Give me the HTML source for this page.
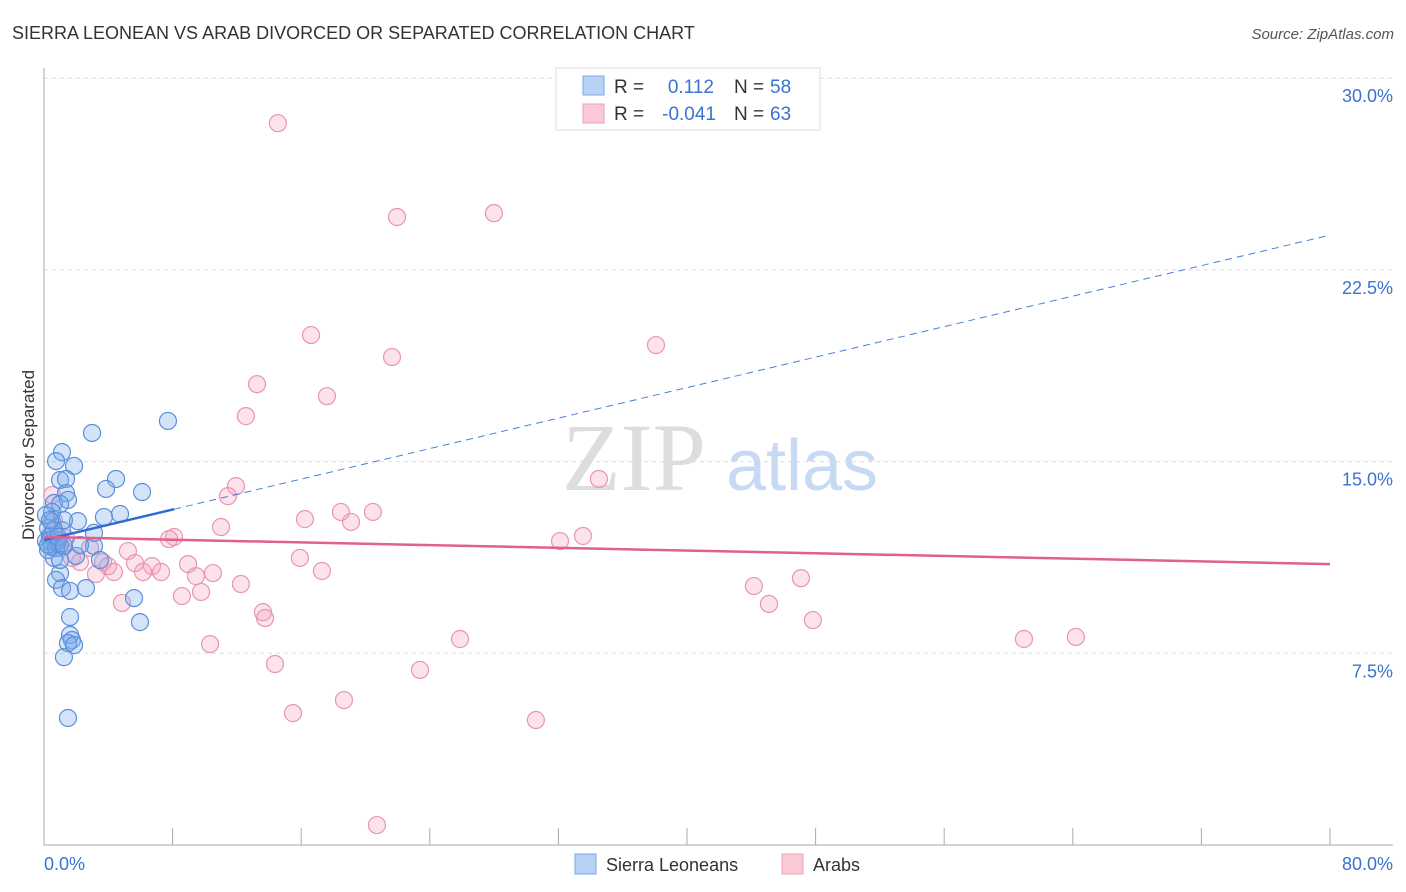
<!DOCTYPE html>
<html><head><meta charset="utf-8"><style>
body{margin:0;background:#fff;font-family:"Liberation Sans",sans-serif;}
svg{display:block}
</style></head><body>
<svg id="chart" width="1406" height="892" xmlns="http://www.w3.org/2000/svg">
<text x="12" y="39" font-size="18" fill="#333">SIERRA LEONEAN VS ARAB DIVORCED OR SEPARATED CORRELATION CHART</text>
<text x="1394" y="39" font-size="15" fill="#555" font-style="italic" text-anchor="end">Source: ZipAtlas.com</text>
<text x="34" y="455" font-size="17" fill="#333" text-anchor="middle" transform="rotate(-90 34 455)">Divorced or Separated</text>
<g>
<text x="634" y="490" font-size="96" fill="#ddd" font-family="Liberation Serif,serif" text-anchor="middle">ZIP</text>
<text x="802" y="490" font-size="72" fill="#c8daf3" text-anchor="middle">atlas</text>
</g>
<g id="grid"></g>
<g id="axes"></g>
<g id="pts"></g>
<g id="lines"></g>
<g>
<rect x="556" y="68" width="264" height="62" fill="#fff" stroke="#ddd"/>
<rect x="583" y="76" width="21" height="19" fill="#b8d2f5" stroke="#7aa8e8"/>
<text x="614" y="93" font-size="19" fill="#333">R =</text>
<text x="714" y="93" font-size="19" fill="#3a72d0" text-anchor="end">0.112</text>
<text x="734" y="93" font-size="19" fill="#333">N =</text>
<text x="770" y="93" font-size="19" fill="#3a72d0">58</text>
<rect x="583" y="104" width="21" height="19" fill="#fbc8d6" stroke="#eea0b8"/>
<text x="614" y="120" font-size="19" fill="#333">R =</text>
<text x="716" y="120" font-size="19" fill="#3a72d0" text-anchor="end">-0.041</text>
<text x="734" y="120" font-size="19" fill="#333">N =</text>
<text x="770" y="120" font-size="19" fill="#3a72d0">63</text>
</g>
<g>
<rect x="575" y="854" width="21" height="20" fill="#b8d2f5" stroke="#7aa8e8"/>
<text x="606" y="871" font-size="18" fill="#333">Sierra Leoneans</text>
<rect x="782" y="854" width="21" height="20" fill="#fbc8d6" stroke="#eea0b8"/>
<text x="813" y="871" font-size="18" fill="#333">Arabs</text>
</g>
</svg>
<script>
const blueX=[7.71,2.99,1.12,0.75,1.87,4.48,1.0,1.37,3.86,6.10,1.37,1.49,0.62,1.0,4.73,3.73,2.11,0.50,0.25,1.12,3.11,0.37,0.12,0.75,1.0,0.5,3.11,1.99,0.62,1.0,0.75,1.12,1.62,2.61,5.60,1.62,5.97,1.62,1.74,1.49,1.87,1.24,1.49,0.37,0.25,0.87,0.5,1.24,0.62,0.12,0.37,0.75,1.0,0.25,3.48,2.24,0.87,1.24];
const blueY=[16.59,16.12,15.37,15.02,14.83,14.32,14.28,14.32,13.93,13.81,13.77,13.50,13.38,13.34,12.95,12.83,12.67,12.64,12.40,12.32,12.21,12.09,11.89,11.81,11.74,11.66,11.70,11.31,11.23,10.64,10.37,10.05,9.94,10.05,9.66,8.92,8.72,8.22,8.02,7.90,7.82,7.35,4.97,11.93,11.54,11.93,13.03,12.71,12.32,12.91,12.71,11.62,11.15,11.74,11.15,11.74,12.05,11.70];
const pinkX=[14.55,27.99,21.96,16.61,21.65,38.07,13.25,17.60,12.56,34.52,11.94,11.44,18.47,20.46,16.23,19.10,11.01,8.09,7.78,33.53,32.10,5.22,15.92,8.96,5.66,3.67,3.98,6.72,6.16,7.28,4.35,3.23,9.45,10.51,17.29,2.24,1.74,1.12,0.87,0.62,0.5,12.25,44.16,47.09,9.77,8.58,4.85,13.62,13.75,45.10,47.83,10.33,25.88,60.96,64.19,14.37,23.39,18.66,15.49,30.60,20.71,2.86,1.37];
const pinkY=[28.24,24.72,24.57,19.95,19.09,19.56,18.03,17.56,16.78,14.32,14.04,13.65,13.03,13.03,12.75,12.64,12.44,12.05,11.97,12.09,11.89,11.50,11.23,10.99,11.03,11.07,10.91,10.91,10.68,10.68,10.68,10.60,10.52,10.64,10.72,11.07,11.23,11.62,11.74,12.71,13.69,10.21,10.13,10.44,9.90,9.74,9.47,9.11,8.88,9.43,8.80,7.86,8.06,8.06,8.14,7.08,6.85,5.67,5.16,4.89,0.78,11.62,12.01];
const yTicks=[7.5,15,22.5,30];
const yTickLabels=["7.5%","15.0%","22.5%","30.0%"];
const blueTrend=[11.93,23.86];
const pinkTrend=[12.05,10.99];
const X0=44,X1=1330,Y0=845,PY=191.7/7.5;
const sx=v=>X0+(v/80)*(X1-X0);
const sy=v=>Y0-v*PY;
const NS="http://www.w3.org/2000/svg";
function mk(t,a,p){const e=document.createElementNS(NS,t);for(const k in a)e.setAttribute(k,a[k]);p.appendChild(e);return e;}
const grid=document.getElementById('grid'),axes=document.getElementById('axes'),pts=document.getElementById('pts'),lines=document.getElementById('lines');
yTicks.forEach((t,i)=>{
 const l=mk('line',{x1:X0,x2:1393,y1:sy(t),y2:sy(t),stroke:'#ddd','stroke-dasharray':'4,4'},grid);
 
 
 const tx=mk('text',{x:1393,y:sy(t)+24,'font-size':18,fill:'#3a72d0','text-anchor':'end'},axes);
 tx.textContent=yTickLabels[i];
 
 
});
const ya=mk('line',{x1:X0,x2:X0,y1:68,y2:Y0,stroke:'#aaa'},axes);


const xa=mk('line',{x1:X0,x2:1393,y1:Y0,y2:Y0,stroke:'#aaa'},axes);


for(let v=8;v<=80;v+=8){
 const t=mk('line',{x1:sx(v),x2:sx(v),y1:Y0-17,y2:Y0,stroke:'#aaa'},axes);
 
 
}
const xl0=mk('text',{x:44,y:870,'font-size':18,fill:'#3a72d0'},axes);xl0.textContent='0.0%';


const xl1=mk('text',{x:1393,y:870,'font-size':18,fill:'#3a72d0','text-anchor':'end'},axes);xl1.textContent='80.0%';


pinkX.forEach((x,i)=>{
 const c=mk('circle',{cx:sx(x),cy:sy(pinkY[i]),r:8.5,fill:'rgba(244,160,188,0.3)',stroke:'#e995b0','stroke-width':1.2},pts);
 
 
});
blueX.forEach((x,i)=>{
 const c=mk('circle',{cx:sx(x),cy:sy(blueY[i]),r:8.5,fill:'rgba(120,170,235,0.33)',stroke:'#5b8fdb','stroke-width':1.2},pts);
 
 
});
const bAt=v=>blueTrend[0]+(blueTrend[1]-blueTrend[0])*v/80;
const l1=mk('line',{x1:sx(0),y1:sy(bAt(0)),x2:sx(8.1),y2:sy(bAt(8.1)),stroke:'#2e6bd6','stroke-width':2.5},lines);


const l2=mk('line',{x1:sx(8.1),y1:sy(bAt(8.1)),x2:sx(80),y2:sy(bAt(80)),stroke:'#4a80d8','stroke-width':1,'stroke-dasharray':'7,5'},lines);


const l3=mk('line',{x1:sx(0),y1:sy(pinkTrend[0]),x2:sx(80),y2:sy(pinkTrend[1]),stroke:'#e0608e','stroke-width':2.5},lines);


</script>
</body></html>
